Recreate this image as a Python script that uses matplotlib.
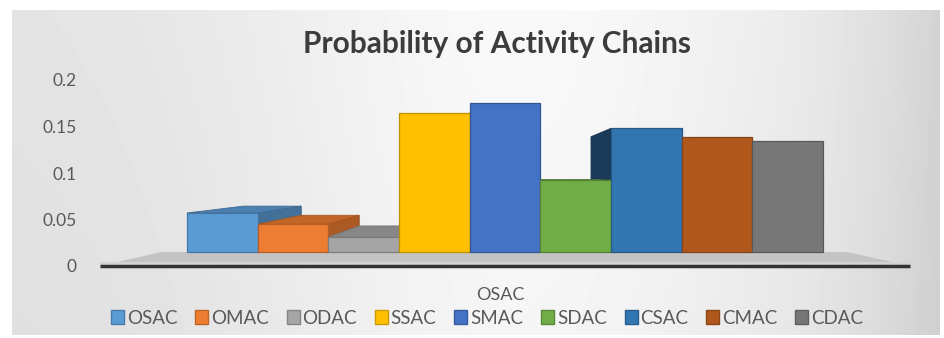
import numpy as np
import matplotlib.pyplot as plt
from matplotlib.patches import Patch, Polygon
from matplotlib.colors import to_rgb

# chain types (one category, nine series)
chains = ['OSAC', 'OMAC', 'ODAC', 'SSAC', 'SMAC', 'SDAC', 'CSAC', 'CMAC', 'CDAC']
probs = [0.057, 0.045, 0.031, 0.165, 0.175, 0.092, 0.148, 0.139, 0.134]
colors = ['#5b9bd5', '#ed7d31', '#a5a5a5', '#ffc000', '#4472c4',
          '#70ad47', '#3276b1', '#b0581c', '#777777']
yticks = [0, 0.05, 0.1, 0.15, 0.2]
ytick_labels = ['0', '0.05', '0.1', '0.15', '0.2']

W, H = 944, 338
fig = plt.figure(figsize=(W / 100, H / 100), dpi=100)
fig.patch.set_facecolor('white')

# chart area background, soft grey gradient like the office style
bg = fig.add_axes([12 / W, 3 / H, 928 / W, 325 / H])
gx = np.linspace(0, 1, 300)
horiz = 0.875 + 0.085 * np.exp(-((gx - 0.55) / 0.3) ** 2) - 0.07 * np.clip((gx - 0.8) / 0.2, 0, 1) ** 2
gy = np.linspace(0, 1, 100)[:, None]
vert = 0.015 * (1 - gy)
img = np.clip(horiz[None, :] + vert, 0, 1)
bg.imshow(img, cmap='gray', vmin=0, vmax=1, aspect='auto', extent=[0, 1, 0, 1])
bg.set_axis_off()

ax = fig.add_axes([100 / W, (H - 266) / H, 805 / W, 186 / H])
ax.set_facecolor('none')
ax.set_xlim(-1.73, 9.66)
ax.set_ylim(0, 0.2)

FLOOR = 0.015
vx, vy, f = 3.93, 0.098, 0.18


def back(x, y, k=f):
    return (x + k * (vx - x), y + k * (vy - y))


def shade(c, k):
    r, g, b = to_rgb(c)
    return (r * k, g * k, b * k)


# floor
fl = [(-1.73, 0), (9.73, 0), back(9.73, 0, 0.153), back(-1.73, 0, 0.153)]
ax.add_patch(Polygon(fl, closed=True, facecolor='#c4c4c4', edgecolor='none', zorder=1, clip_on=False))
ax.add_patch(Polygon([(-1.73, 0), (9.73, 0), (9.73, 0.004), (-1.73, 0.004)], closed=True,
                     facecolor='#d4d4d4', edgecolor='none', zorder=1.1, clip_on=False))
ax.plot([-1.73, 9.73], [0, 0], color='#333333', lw=2.5, zorder=1.2, clip_on=False,
        solid_capstyle='butt')

# side and top faces, farthest from the centre first
xs = np.arange(len(chains))
order = sorted(range(len(chains)), key=lambda i: -abs(xs[i] - vx))
for i in order:
    v = probs[i]
    xl, xr = xs[i] - 0.5, xs[i] + 0.5
    if xr < vx:
        side = [(xr, FLOOR), (xr, v), back(xr, v), back(xr, FLOOR)]
        ax.add_patch(Polygon(side, closed=True, facecolor=shade(colors[i], 0.72),
                             edgecolor=shade(colors[i], 0.6), lw=0.6, zorder=2))
    elif xl > vx:
        side = [(xl, FLOOR), (xl, v), back(xl, v), back(xl, FLOOR)]
        ax.add_patch(Polygon(side, closed=True, facecolor=shade(colors[i], 0.5),
                             edgecolor=shade(colors[i], 0.45), lw=0.6, zorder=2))
    if v < vy:
        top = [(xl, v), (xr, v), back(xr, v), back(xl, v)]
        ax.add_patch(Polygon(top, closed=True, facecolor=shade(colors[i], 0.82),
                             edgecolor=shade(colors[i], 0.7), lw=0.6, zorder=2.1))

# front faces
ax.bar(xs, np.array(probs) - FLOOR, bottom=FLOOR, width=1.0, color=colors,
       edgecolor=[shade(c, 0.75) for c in colors], linewidth=0.9, zorder=3)

for s in ax.spines.values():
    s.set_visible(False)
ax.set_xticks([])
ax.set_yticks(yticks)
ax.set_yticklabels(ytick_labels)
ax.tick_params(axis='y', length=0, pad=17, labelsize=12.5, labelcolor='#595959')
for lab in ax.get_yticklabels():
    lab.set_fontfamily('Lato')

fig.text(497 / W, 1 - 44 / H, 'Probability of Activity Chains', ha='center', va='center',
         fontsize=21.5, fontweight='bold', color='#3c3c3c', family='Lato')
fig.text(500 / W, 1 - 295 / H, 'OSAC', ha='center', va='center',
         fontsize=13, color='#595959', family='Lato')

handles = [Patch(facecolor=c, edgecolor=shade(c, 0.8)) for c in colors]
fig.legend(handles, chains, loc='center', bbox_to_anchor=(487 / W, 1 - 318 / H), ncol=9,
           frameon=False, handlelength=0.7, handleheight=0.7, handletextpad=0.15,
           columnspacing=0.95, prop={'family': 'Lato', 'size': 13.5},
           labelcolor='#595959')

fig.savefig('out.png', dpi=100)
